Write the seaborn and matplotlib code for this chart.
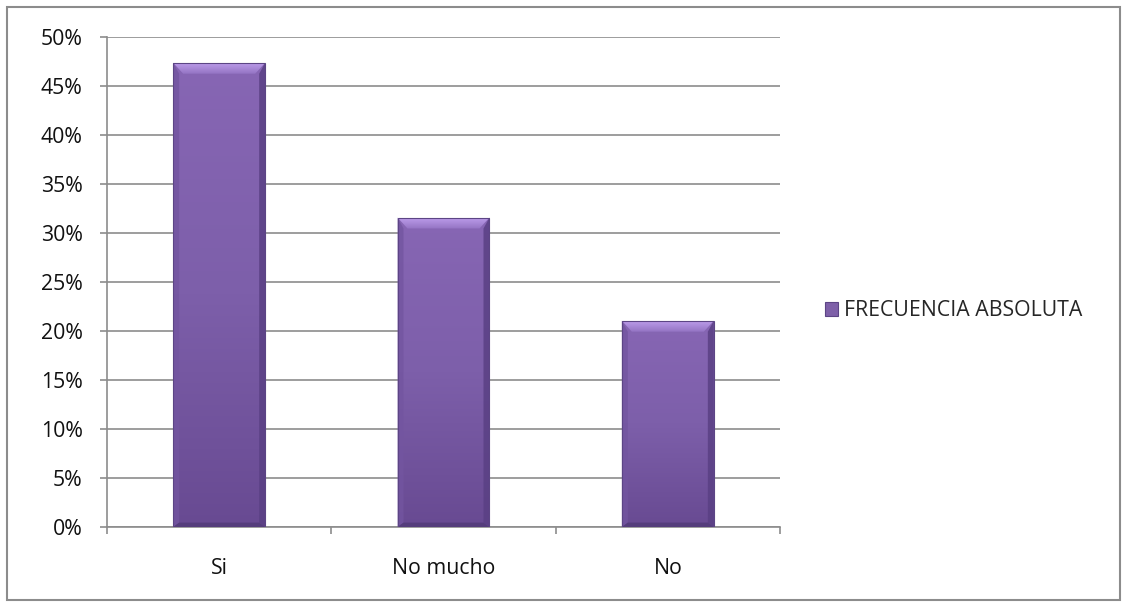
import numpy as np
import pandas as pd
import matplotlib
matplotlib.use("Agg")
import matplotlib.pyplot as plt
from matplotlib.patches import Rectangle, Polygon
from matplotlib.ticker import PercentFormatter, FixedLocator
import seaborn as sns

categories = ["Si", "No mucho", "No"]
values = [0.4737, 0.3158, 0.2105]
series_name = "FRECUENCIA ABSOLUTA"
y_ticks = [0, 0.05, 0.10, 0.15, 0.20, 0.25, 0.30, 0.35, 0.40, 0.45, 0.50]

sns.set_style("white")
plt.rcParams["font.family"] = ["Open Sans", "DejaVu Sans"]
FS = 15.3

W, H, DPI = 1128, 608, 100
fig = plt.figure(figsize=(W / DPI, H / DPI), dpi=DPI)
ax = fig.add_axes([107 / W, 1 - 527 / H, (780 - 107) / W, (527 - 37) / H])

df = pd.DataFrame({"cat": categories, "val": values})
sns.barplot(data=df, x="cat", y="val", color="#8061AD", width=0.41,
            saturation=1, ax=ax, zorder=3, edgecolor="none")

ax.set_xlim(-0.5, len(categories) - 0.5)
ax.set_ylim(0, 0.5)
ax.set_xlabel("")
ax.set_ylabel("")

grid_c = "#8C8C8C"
ax.yaxis.set_major_locator(FixedLocator(y_ticks))
ax.yaxis.set_major_formatter(PercentFormatter(1.0, decimals=0))
ax.grid(axis="y", color=grid_c, linewidth=1.2, zorder=0)
ax.set_axisbelow(True)
for side in ["top", "right"]:
    ax.spines[side].set_visible(False)
for side in ["left", "bottom"]:
    ax.spines[side].set_color(grid_c)
    ax.spines[side].set_linewidth(1.2)

ax.tick_params(axis="y", length=5, width=1.2, color=grid_c, pad=12.5,
               labelsize=FS, labelcolor="#111111", left=True)
ax.set_xticks(np.arange(len(categories)))
ax.set_xticks(np.arange(len(categories) + 1) - 0.5, minor=True)
ax.tick_params(axis="x", which="major", length=0, pad=22, labelsize=FS,
               labelcolor="#111111")
ax.tick_params(axis="x", which="minor", length=5, width=1.2, color=grid_c,
               bottom=True)

# Bevel shading on each bar
fig.canvas.draw()
inv = ax.transData.inverted()
p0 = inv.transform((0, 0))
p1 = inv.transform((10, 11))
dx, dy = p1[0] - p0[0], p1[1] - p0[1]

grad = np.linspace(0, 1, 256).reshape(-1, 1)
cmap = matplotlib.colors.LinearSegmentedColormap.from_list(
    "barshade", ["#684A92", "#7D5FAA", "#8766B4"])
top_cmap = matplotlib.colors.LinearSegmentedColormap.from_list(
    "topshade", ["#9373C2", "#BC9CEA"])
for bar in ax.patches:
    x0, y0 = bar.get_x(), bar.get_y()
    w, h = bar.get_width(), bar.get_height()
    x1, y1 = x0 + w, y0 + h
    im = ax.imshow(grad, extent=[x0, x1, y0, y1], origin="lower",
                   cmap=cmap, aspect="auto", zorder=3.1)
    im.set_clip_path(bar)
    # top bevel (light)
    top = Polygon([(x0, y1), (x1, y1), (x1 - dx, y1 - dy),
                   (x0 + dx, y1 - dy)], closed=True,
                  facecolor="none", edgecolor="none", zorder=3.2)
    ax.add_patch(top)
    tim = ax.imshow(grad, extent=[x0, x1, y1 - dy, y1], origin="lower",
                    cmap=top_cmap, aspect="auto", zorder=3.2)
    tim.set_clip_path(top)
    # left bevel
    ax.add_patch(Polygon([(x0, y1), (x0 + dx * 0.6, y1 - dy), (x0 + dx * 0.6, y0 + dy * 0.4),
                          (x0, y0)], closed=True,
                         facecolor="#7355A0", edgecolor="none", zorder=3.2, alpha=0.8))
    # right bevel
    ax.add_patch(Polygon([(x1, y1), (x1 - dx * 0.6, y1 - dy), (x1 - dx * 0.6, y0 + dy * 0.4),
                          (x1, y0)], closed=True,
                         facecolor="#5A4084", edgecolor="none", zorder=3.2, alpha=0.85))
    # bottom bevel
    ax.add_patch(Polygon([(x0, y0), (x1, y0), (x1 - dx * 0.6, y0 + dy * 0.4),
                          (x0 + dx * 0.6, y0 + dy * 0.4)], closed=True,
                         facecolor="#553D7C", edgecolor="none", zorder=3.2))
    ax.add_patch(Rectangle((x0, y0), w, h, facecolor="none",
                           edgecolor="#5C4585", linewidth=0.8, zorder=3.3))

# Legend entry
handle = Rectangle((0, 0), 1, 1, facecolor="#7E60A8", edgecolor="#5C4585",
                   linewidth=0.8)
fig.legend([handle], [series_name], loc="center left",
           bbox_to_anchor=(825 / W, 1 - 311 / H), frameon=False,
           fontsize=FS, handlelength=0.6, handleheight=0.6,
           handletextpad=0.3, borderpad=0, borderaxespad=0)

# Outer chart border
fig.add_artist(Rectangle((7 / W, 1 - 600 / H), (1120 - 7) / W, (600 - 7) / H,
                         transform=fig.transFigure, facecolor="none",
                         edgecolor="#8C8C8C", linewidth=1.5))

fig.savefig("out.png", dpi=DPI, facecolor="white")
